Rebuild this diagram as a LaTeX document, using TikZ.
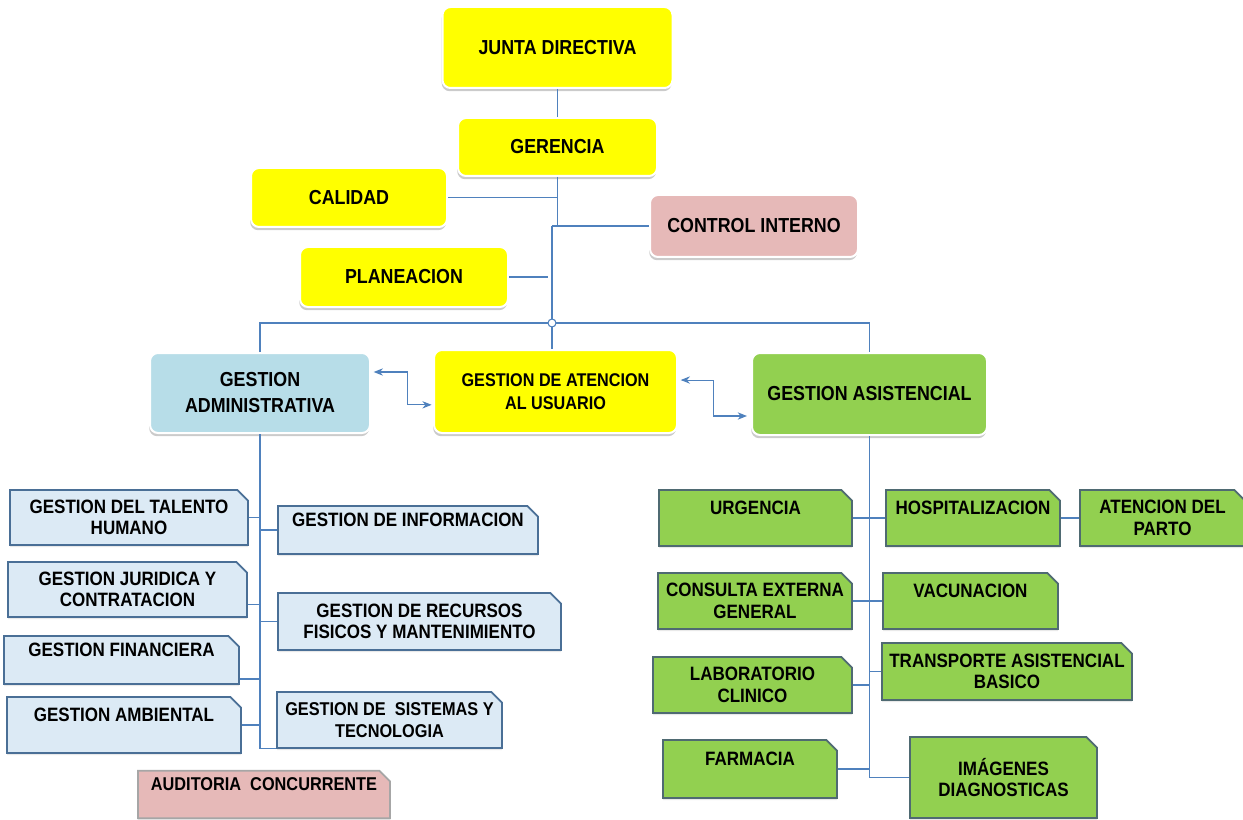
\documentclass[tikz,border=0pt]{standalone}
\usepackage{fontspec}
\setmainfont{Liberation Sans}[FakeStretch=0.88]
\usepackage{xcolor}
\usetikzlibrary{shapes.misc,shadows,arrows.meta}

\definecolor{amarillo}{HTML}{FFFF00}
\definecolor{celeste}{HTML}{B7DDE8}
\definecolor{rosa}{HTML}{E6B9B8}
\definecolor{verde}{HTML}{92D050}
\definecolor{azulclaro}{HTML}{DCEAF5}
\definecolor{bordeazul}{HTML}{4A6F96}
\definecolor{bordeverde}{HTML}{4F6A72}
\definecolor{linea}{HTML}{4F81BD}

\newcommand{\txtgrande}{\fontsize{15.2}{19.5}\selectfont\bfseries}
\newcommand{\txtmedio}{\fontsize{13.8}{17}\selectfont\bfseries}
\newcommand{\txtchico}{\fontsize{14.5}{16}\selectfont\bfseries}
\newcommand{\txtmenor}{\fontsize{13.9}{16}\selectfont\bfseries}

\tikzset{
  caja/.style={rounded corners=6pt, draw=white, line width=1.5pt, align=center,
    inner sep=2pt, font=\txtgrande,
    drop shadow={shadow xshift=-0.6pt, shadow yshift=-2.4pt, fill=black!45, opacity=.45}},
  cajaamarilla/.style={caja, fill=amarillo},
  cajaceleste/.style={caja, fill=celeste},
  cajaverdeg/.style={caja, fill=verde},
  cajarosag/.style={caja, fill=rosa},
  recorte/.style={chamfered rectangle, chamfered rectangle corners=north east,
    chamfered rectangle xsep=4pt, chamfered rectangle ysep=4pt,
    line width=1.3pt, align=center, inner sep=1pt, font=\txtchico,
    drop shadow={shadow xshift=0pt, shadow yshift=-1.5pt, fill=black!25, opacity=.35}},
  cajaazul/.style={recorte, fill=azulclaro, draw=bordeazul},
  cajaverde/.style={recorte, fill=verde, draw=bordeverde},
  cajarosa/.style={recorte, fill=rosa, draw=black!35},
  conector/.style={draw=linea, line width=0.8pt},
  flecha/.style={conector, {Stealth[length=7pt,width=5.5pt]}-{Stealth[length=7pt,width=5.5pt]}},
}

\begin{document}
\begin{tikzpicture}[x=0.75pt,y=-0.75pt]
		\useasboundingbox (0,0) rectangle (1243,820);
		
		% direccion
		\node[cajaamarilla, minimum width=172.5pt, minimum height=60.75pt] (junta) at (557.5,47.5) {JUNTA DIRECTIVA};
		\node[cajaamarilla, minimum width=149.25pt, minimum height=43.5pt] (gerencia) at (557.5,147) {GERENCIA};
		\node[cajaamarilla, minimum width=147pt, minimum height=44.25pt] (calidad) at (349,197.5) {CALIDAD};
		\node[cajarosag, minimum width=156pt, minimum height=46.5pt] (control) at (754,226) {CONTROL INTERNO};
		\node[cajaamarilla, minimum width=156pt, minimum height=45pt] (planeacion) at (404,277) {PLANEACION};
		
		% gestiones principales
		\node[cajaceleste, minimum width=165pt, minimum height=60pt] (admin) at (260,393) {GESTION\\ADMINISTRATIVA};
		\node[cajaamarilla, font=\txtmedio, minimum width=182.25pt, minimum height=62.25pt] (atencion) at (555.5,391.5) {GESTION DE ATENCION\\AL USUARIO};
		\node[cajaverdeg, minimum width=176.25pt, minimum height=61.5pt] (asistencial) at (869.5,394) {GESTION ASISTENCIAL};
		
		% gestion administrativa
		\node[cajaazul, minimum width=178.5pt, minimum height=41.25pt] (talento) at (129,517.5) {GESTION DEL TALENTO\\HUMANO};
		\node[cajaazul, minimum width=195pt, minimum height=34.5pt] (informacion) at (408,530) {GESTION DE INFORMACION\\\mbox{}};
		\node[cajaazul, minimum width=179.25pt, minimum height=41.25pt] (juridica) at (127.5,589.5) {GESTION JURIDICA Y\\CONTRATACION};
		\node[cajaazul, minimum width=212.25pt, minimum height=42.75pt] (recursos) at (419.5,621.5) {GESTION DE RECURSOS\\FISICOS Y MANTENIMIENTO};
		\node[cajaazul, minimum width=176.25pt, minimum height=34.5pt] (financiera) at (121.5,660) {GESTION FINANCIERA\\\mbox{}};
		\node[cajaazul, minimum width=175.5pt, minimum height=42pt] (ambiental) at (124,725) {GESTION AMBIENTAL\\\mbox{}};
		\node[cajaazul, font=\txtmenor, minimum width=168.75pt, minimum height=42pt] (sistemas) at (389.5,720) {GESTION DE~ SISTEMAS Y\\TECNOLOGIA};
		\node[cajarosa, font=\txtmenor, minimum width=189pt, minimum height=33.75pt] (auditoria) at (264,794.5) {AUDITORIA~ CONCURRENTE\\\mbox{}};
		
		% gestion asistencial
		\node[cajaverde, minimum width=144.75pt, minimum height=42pt] (urgencia) at (755.5,518) {URGENCIA\\\mbox{}};
		\node[cajaverde, minimum width=130.5pt, minimum height=42pt] (hospital) at (973,518) {HOSPITALIZACION\\\mbox{}};
		\node[cajaverde, minimum width=123.75pt, minimum height=42pt] (parto) at (1162.5,518) {ATENCION DEL\\PARTO};
		\node[cajaverde, minimum width=145.5pt, minimum height=42pt] (consulta) at (755,601) {CONSULTA EXTERNA\\GENERAL};
		\node[cajaverde, minimum width=131.25pt, minimum height=42pt] (vacunacion) at (970.5,601) {VACUNACION\\\mbox{}};
		\node[cajaverde, minimum width=149.25pt, minimum height=42pt] (laboratorio) at (752.5,685) {LABORATORIO\\CLINICO};
		\node[cajaverde, minimum width=187.5pt, minimum height=42.75pt] (transporte) at (1007,671.5) {TRANSPORTE ASISTENCIAL\\BASICO};
		\node[cajaverde, minimum width=130.5pt, minimum height=43.5pt] (farmacia) at (750,769) {FARMACIA\\\mbox{}};
		\node[cajaverde, minimum width=140.25pt, minimum height=60.75pt] (imagenes) at (1003.5,777.5) {IM\'AGENES\\DIAGNOSTICAS};
		
		% lineas de la parte alta
		\coordinate (hub) at (552,323);
		\draw[conector] (junta) -- (gerencia);
		\draw[conector] (gerencia.south) -- (gerencia.south |- control.west);
		\draw[conector] (calidad.east) -- (calidad.east -| gerencia.south);
		\draw[conector] (hub |- control.west) -- (control.west);
		\draw[conector] (hub |- control.west) -- (hub |- atencion.north);
		\draw[conector, shorten >=3pt] (planeacion.east) -- (hub |- planeacion.east);
		\draw[conector] (admin.north) |- (hub) -| (asistencial.north);
		\node[circle, draw=linea, line width=0.8pt, fill=white, inner sep=0pt, minimum size=6pt] (nudo) at (hub) {};
		
		% flechas entre gestiones
		\coordinate (f1) at ([xshift=2pt,yshift=15.75pt]admin.east);
		\coordinate (f2) at ([xshift=-1pt,yshift=-10pt]atencion.west);
		\coordinate (f3) at ([xshift=2pt,yshift=8.6pt]atencion.east);
		\coordinate (f4) at ([xshift=-3pt,yshift=-16.5pt]asistencial.west);
		\draw[flecha] (f1) -- ++(34,0) |- (f2);
		\draw[flecha] (f3) -- ++(33,0) |- (f4);
		
		% ramas administrativas
		\coordinate (jurE) at ([yshift=-10.9pt]juridica.east);
		\coordinate (finE) at ([yshift=-14.25pt]financiera.east);
		\draw[conector] (admin.south) |- (sistemas.south west);
		\draw[conector] (talento.east) -- (talento.east -| admin.south);
		\draw[conector] (informacion.west) -- (informacion.west -| admin.south);
		\draw[conector] (jurE) -- (jurE -| admin.south);
		\draw[conector] (recursos.west) -- (recursos.west -| admin.south);
		\draw[conector] (finE) -- (finE -| admin.south);
		\draw[conector] (ambiental.east) -- (ambiental.east -| admin.south);
		
		% ramas asistenciales
		\draw[conector] (asistencial.south) |- (imagenes.west);
		\draw[conector] (urgencia.east) -- (hospital.west);
		\draw[conector] (hospital.east) -- (parto.west);
		\draw[conector] (consulta.east) -- (vacunacion.west);
		\draw[conector] (laboratorio.east) -- (laboratorio.east -| asistencial.south);
		\draw[conector] (transporte.west) -- (transporte.west -| asistencial.south);
		\draw[conector] (farmacia.east) -- (farmacia.east -| asistencial.south);
	\end{tikzpicture}
\end{document}
